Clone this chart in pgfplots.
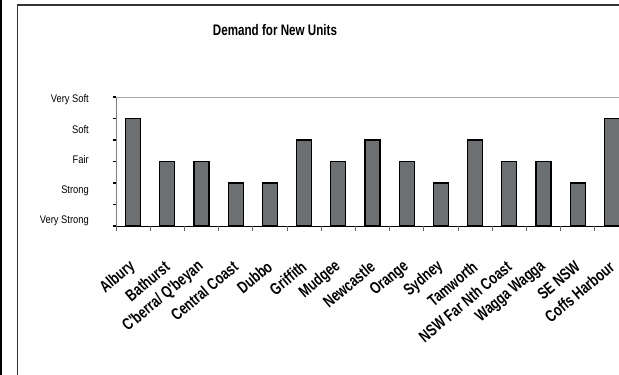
\documentclass[border=0pt]{standalone}
\usepackage{fontspec}
\setmainfont{Liberation Sans}[FakeStretch=0.85]
\newfontfamily\narrowfont{Liberation Sans}[FakeStretch=0.76]
\usepackage{pgfplots}
\pgfplotsset{compat=1.18}
\definecolor{barfill}{RGB}{109,112,115}

\begin{document}
\begin{tikzpicture}[x=1pt,y=1pt]
\useasboundingbox (0,0) rectangle (619,375);
% outer rules and chart frame
\draw[line width=1.2pt, black] (1,-10) -- (1,385);
\draw[line width=1.6pt, black!80] (17.5,-10) -- (17.5,370) -- (660,370) -- (660,-10);
% title
\node[font=\narrowfont\bfseries\fontsize{15.3}{17}\selectfont] at (275,345) {Demand for New Units};
% rating scale labels
\begin{scope}[every node/.style={anchor=base east, inner sep=0pt, font=\fontsize{11}{13}\selectfont}]
\node at (89,272) {Very Soft};
\node at (89,241.8) {Soft};
\node at (89,211.6) {Fair};
\node at (89,181.4) {Strong};
\node at (89,151.2) {Very Strong};
\end{scope}
\begin{axis}[
  at={(116pt,149pt)}, anchor=south west,
  scale only axis, width=513pt, height=129pt,
  xmin=-0.5, xmax=14.5, ymin=0, ymax=6,
  axis x line=bottom, axis y line=left,
  axis line style={-},
  x axis line style={black, line width=0.9pt},
  y axis line style={gray, line width=0.8pt},
  ytick={0,...,6}, yticklabels={},
  ytick style={black, line width=1.5pt},
  major tick length=3.5pt, tick align=outside,
  xtick={0,...,14},
  xticklabels={Albury, Bathurst, C'berra/ Q'beyan, Central Coast, Dubbo, Griffith, Mudgee, Newcastle, Orange, Sydney, Tamworth, NSW Far Nth Coast, Wagga Wagga, SE NSW, Coffs Harbour},
  xtick style={draw=none},
  xticklabel style={font=\narrowfont\bfseries\fontsize{16.5}{18}\selectfont, inner sep=0pt, yshift=-35pt, rotate=40, anchor=east},
  extra x ticks={-0.5,0.5,...,14.5},
  extra x tick labels={},
  extra x tick style={major tick length=5pt, xtick style={draw=gray!80!black, line width=0.8pt}},
  ybar, bar width=15pt,
  clip=false,
]
\addplot[fill=barfill, draw=black, line width=1.2pt] coordinates {
  (0,5) (1,3) (2,3) (3,2) (4,2) (5,4) (6,3) (7,4)
  (8,3) (9,2) (10,4) (11,3) (12,3) (13,2) (14,5)
};
\draw[gray!70, line width=1pt] (rel axis cs:0,1) -- (rel axis cs:1,1) -- (rel axis cs:1,0);
\end{axis}
\end{tikzpicture}
\end{document}
